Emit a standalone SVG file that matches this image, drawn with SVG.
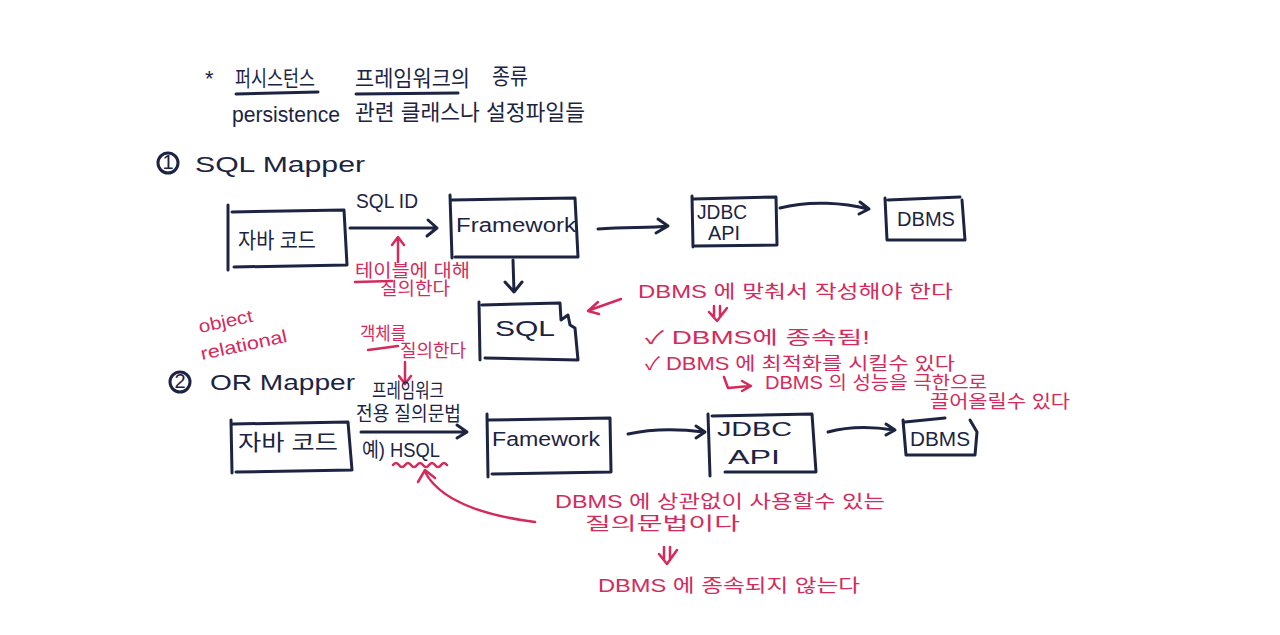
<svg xmlns="http://www.w3.org/2000/svg" width="1280" height="635" viewBox="0 0 1280 635">
<defs>
<style>
.ink{fill:none;stroke:#1c2442;stroke-width:3;stroke-linecap:round;stroke-linejoin:round}
.red{fill:none;stroke:#d42a5c;stroke-width:2.5;stroke-linecap:round;stroke-linejoin:round}
.t{fill:#1c2442;font-family:"Liberation Sans","Noto Sans CJK KR",sans-serif;font-size:20px}
.tb{fill:#1c2442;font-family:"Liberation Sans","Noto Sans CJK KR",sans-serif;font-size:22px}
.r{fill:#d42a5c;font-family:"Liberation Sans","Noto Sans CJK KR",sans-serif;font-size:18px}
</style>
</defs>
<rect width="1280" height="635" fill="#ffffff"/>

<g id="title">
<text class="tb" x="205" y="86">*</text>
<text class="tb" x="235" y="86" textLength="80" lengthAdjust="spacingAndGlyphs">퍼시스턴스</text>
<path class="ink" d="M236 94 L318 92" stroke-width="2"/>
<text class="tb" x="355" y="86" textLength="115" lengthAdjust="spacingAndGlyphs">프레임워크의</text>
<path class="ink" d="M356 94 L458 93" stroke-width="2"/>
<text class="tb" x="492" y="84" textLength="36" lengthAdjust="spacingAndGlyphs">종류</text>
<text class="tb" x="232" y="122" textLength="108" lengthAdjust="spacingAndGlyphs">persistence</text>
<text class="tb" x="355" y="120" textLength="230" lengthAdjust="spacingAndGlyphs">관련 클래스나 설정파일들</text>
</g>

<g id="sql-mapper-title">
<circle class="ink" cx="168" cy="163" r="10" stroke-width="2.5"/>
<text class="t" x="168" y="169" font-size="15" text-anchor="middle">1</text>
<text class="tb" x="195" y="172" textLength="170" lengthAdjust="spacingAndGlyphs">SQL  Mapper</text>
</g>

<g id="java1">
<path class="ink" d="M228 205 L228 270 M232 212 L344 210 L347 265 L234 267"/>
<text class="tb" x="238" y="248" textLength="78" lengthAdjust="spacingAndGlyphs">자바 코드</text>
</g>

<g id="fw1">
<path class="ink" d="M450 195 L452 258 M452 200 L575 198 L578 257 L455 257"/>
<text class="t" x="456" y="232" textLength="120" lengthAdjust="spacingAndGlyphs">Framework</text>
</g>

<g id="jdbc1">
<path class="ink" d="M692 196 L693 247 M693 199 L776 197 L777 245 L695 246"/>
<text class="t" x="697" y="219" textLength="50" lengthAdjust="spacingAndGlyphs">JDBC</text>
<text class="t" x="708" y="240" textLength="32" lengthAdjust="spacingAndGlyphs">API</text>
</g>

<g id="dbms1">
<path class="ink" d="M885 198 L887 240 L965 240 L962 200 M888 200 L960 197"/>
<text class="t" x="897" y="226" textLength="58" lengthAdjust="spacingAndGlyphs">DBMS</text>
</g>

<g id="sql-box">
<path class="ink" d="M479 302 L480 360 M482 305 L560 303 L561 320 L568 315 L570 325 L575 328 L578 360 L485 358"/>
<text class="tb" x="495" y="336" textLength="60" lengthAdjust="spacingAndGlyphs">SQL</text>
</g>

<g id="or-mapper-title">
<circle class="ink" cx="180" cy="382" r="10" stroke-width="2.5"/>
<text class="t" x="180" y="388" font-size="15" text-anchor="middle">2</text>
<text class="tb" x="210" y="390" textLength="145" lengthAdjust="spacingAndGlyphs">OR Mapper</text>
</g>

<g id="java2">
<path class="ink" d="M231 420 L232 473 M233 424 L348 422 L352 470 L236 472"/>
<text class="tb" x="238" y="450" textLength="100" lengthAdjust="spacingAndGlyphs">자바 코드</text>
</g>

<g id="fw2">
<path class="ink" d="M487 414 L488 477 M489 420 L610 418 L611 472 L492 474"/>
<text class="t" x="492" y="446" textLength="108" lengthAdjust="spacingAndGlyphs">Famework</text>
</g>

<g id="jdbc2">
<path class="ink" d="M708 414 L710 476 M712 416 L812 414 L816 472 L725 472"/>
<text class="t" x="717" y="436" textLength="75" lengthAdjust="spacingAndGlyphs">JDBC</text>
<text class="t" x="728" y="464" textLength="52" lengthAdjust="spacingAndGlyphs">API</text>
</g>

<g id="dbms2">
<path class="ink" d="M903 420 L906 455 L975 455 L977 432 L970 420 M905 422 L945 418"/>
<text class="t" x="910" y="446" font-size="17" textLength="60" lengthAdjust="spacingAndGlyphs">DBMS</text>
</g>

<g id="connectors">
<path class="ink" d="M350 228 L437 228 M428 220 L437 228 L427 236" stroke-width="2.5"/>
<path class="ink" d="M598 229 C630 227 650 228 668 226 M658 219 L668 226 L656 233" stroke-width="2.5"/>
<path class="ink" d="M780 208 C810 200 845 203 868 209 M860 202 L869 209 L859 214" stroke-width="2.5"/>
<path class="ink" d="M513 260 L514 292 M505 282 L514 292 L522 282" stroke-width="2.5"/>
<path class="ink" d="M361 432 L466 432 M457 425 L467 432 L457 438" stroke-width="2.5"/>
<path class="ink" d="M628 434 C655 428 680 429 704 432 M696 426 L705 432 L696 438" stroke-width="2.5"/>
<path class="ink" d="M828 432 C850 426 875 427 894 430 M886 424 L895 430 L886 435" stroke-width="2.5"/>
<path class="red" d="M398 262 L398 238 M392 245 L398 237 L404 245"/>
<path class="red" d="M621 299 L590 310 M598 302 L588 311 L599 314"/>
<path class="red" d="M405 362 L405 383 M399 376 L405 384 L411 376"/>
<path class="red" d="M535 522 C480 515 440 500 425 472 M418 482 L425 470 L435 478"/>
<path class="red" d="M393 465 q3 -4 6 0 t6 0 t6 0 t6 0 t6 0 t6 0 t6 0 t6 0 t6 0"/>
<path class="red" d="M714 306 L714 317 M720 306 L720 317 M709 312 L717 321 L727 308" stroke-width="2"/>
<path class="red" d="M664 547 L664 560 M670 547 L670 560 M659 554 L667 564 L677 550" stroke-width="2"/>
<path class="red" d="M724 377 L728 388 L750 386 M742 381 L751 386 L742 391"/>
</g>

<g id="notes-red">
<text class="r" x="355" y="277" textLength="115" lengthAdjust="spacingAndGlyphs">테이블에 대해</text>
<path class="red" d="M355 282 L392 281"/>
<text class="r" x="380" y="295" textLength="70" lengthAdjust="spacingAndGlyphs">질의한다</text>
<text class="r" x="638" y="298" font-size="20" textLength="315" lengthAdjust="spacingAndGlyphs">DBMS 에 맞춰서 작성해야 한다</text>
<text class="r" x="645" y="344" font-size="20" textLength="225" lengthAdjust="spacingAndGlyphs">✓ DBMS에 종속됨!</text>
<text class="r" x="645" y="370" font-size="20" textLength="310" lengthAdjust="spacingAndGlyphs">✓ DBMS 에 최적화를 시킬수 있다</text>
<text class="r" x="765" y="389" font-size="17" textLength="222" lengthAdjust="spacingAndGlyphs">DBMS 의 성능을 극한으로</text>
<text class="r" x="930" y="408" font-size="17" textLength="140" lengthAdjust="spacingAndGlyphs">끌어올릴수 있다</text>
<text class="r" x="200" y="333" font-size="17" textLength="55" lengthAdjust="spacingAndGlyphs" transform="rotate(-12 200 333)">object</text>
<text class="r" x="202" y="360" font-size="17" textLength="88" lengthAdjust="spacingAndGlyphs" transform="rotate(-12 202 360)">relational</text>
<text class="r" x="360" y="340" font-size="15" textLength="46" lengthAdjust="spacingAndGlyphs">객체를</text>
<path class="red" d="M368 350 L398 346"/>
<text class="r" x="400" y="357" font-size="15" textLength="66" lengthAdjust="spacingAndGlyphs">질의한다</text>
<text class="r" x="555" y="508" font-size="20" textLength="330" lengthAdjust="spacingAndGlyphs">DBMS 에 상관없이 사용할수 있는</text>
<text class="r" x="585" y="530" font-size="20" textLength="155" lengthAdjust="spacingAndGlyphs">질의문법이다</text>
<text class="r" x="598" y="592" font-size="20" textLength="262" lengthAdjust="spacingAndGlyphs">DBMS 에 종속되지 않는다</text>
</g>

<g id="or-labels">
<text class="t" x="372" y="398" font-size="16" textLength="72" lengthAdjust="spacingAndGlyphs">프레임워크</text>
<text class="t" x="356" y="421" font-size="17" textLength="105" lengthAdjust="spacingAndGlyphs">전용 질의문법</text>
<text class="t" x="362" y="457" font-size="16" textLength="78" lengthAdjust="spacingAndGlyphs">예) HSQL</text>
<text class="t" x="356" y="208" font-size="15" textLength="62" lengthAdjust="spacingAndGlyphs">SQL ID</text>
</g>
</svg>
